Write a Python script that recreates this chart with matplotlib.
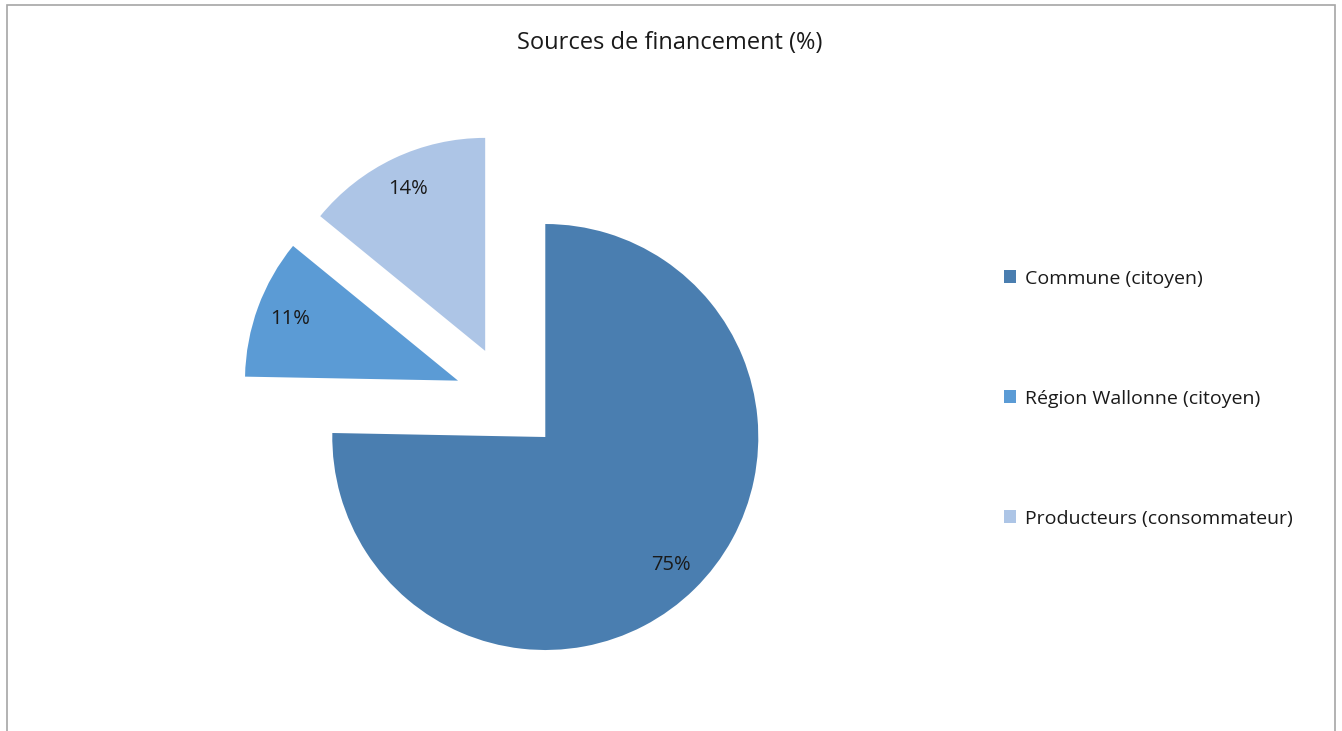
import matplotlib.pyplot as plt
from matplotlib.patches import Rectangle

# data
labels = ["Commune (citoyen)", "Région Wallonne (citoyen)", "Producteurs (consommateur)"]
values = [75.3, 10.6, 14.1]
colors = ["#4A7EB0", "#5B9BD5", "#ADC5E6"]
explode = [0.25, 0.25, 0.25]

plt.rcParams['font.family'] = ['Open Sans', 'DejaVu Sans']

W, H = 1342, 731
fig = plt.figure(figsize=(W / 100, H / 100), dpi=100)

# chart frame (bottom edge cut off)
fig.patches.append(Rectangle((7 / W, -0.05), (1335 - 7) / W, (H - 5) / H + 0.05,
                             transform=fig.transFigure, fill=False,
                             edgecolor="#A6A6A6", linewidth=1.2))

r_px = 213
cx, cy = 508, H - 399
ax = fig.add_axes([(cx - 1.5 * r_px) / W, (cy - 1.5 * r_px) / H, 3 * r_px / W, 3 * r_px / H])

wedges, texts, autotexts = ax.pie(values, colors=colors, explode=explode,
                                  startangle=90, counterclock=False,
                                  autopct="%.0f%%", pctdistance=0.84,
                                  textprops={"fontsize": 14.5, "color": "#1a1a1a"},
                                  wedgeprops={"linewidth": 0})
ax.set_xlim(-1.5, 1.5)
ax.set_ylim(-1.5, 1.5)
ax.set_aspect("equal")
ax.axis("off")

fig.text(670 / W, 1 - 43 / H, "Sources de financement (%)", ha="center", va="center",
         fontsize=17, color="#1a1a1a")

leg = fig.legend(wedges, labels, loc="upper left", bbox_to_anchor=(986 / W, 1 - 252 / H),
                 frameon=False, fontsize=14, labelspacing=5.25,
                 handlelength=0.65, handleheight=0.65, handletextpad=0.45)
for t in leg.get_texts():
    t.set_color("#1a1a1a")

fig.savefig("out.png", dpi=100)
